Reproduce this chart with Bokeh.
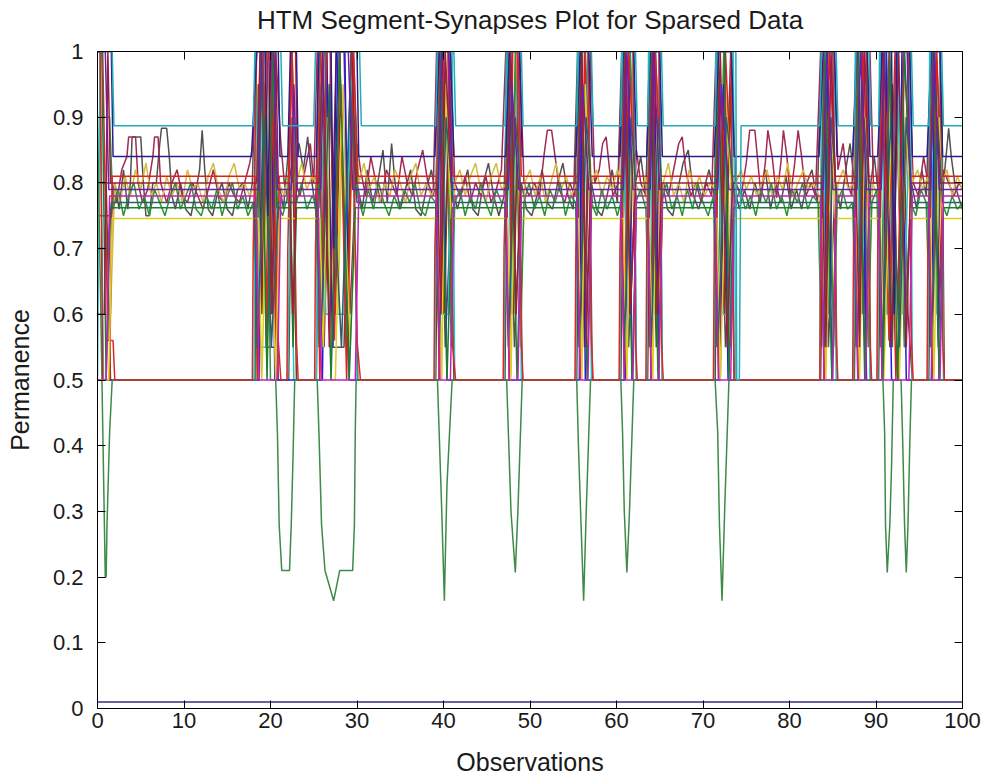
from bokeh.plotting import figure
from bokeh.models import FixedTicker, Range1d, CustomJSTickFormatter, LinearAxis
from bokeh.embed import file_html
from bokeh.resources import INLINE

TITLE = "HTM Segment-Synapses Plot for Sparsed Data"
X_LABEL = "Observations"
Y_LABEL = "Permanence"
x_ticks = [0, 10, 20, 30, 40, 50, 60, 70, 80, 90, 100]
y_ticks = [0, 0.1, 0.2, 0.3, 0.4, 0.5, 0.6, 0.7, 0.8, 0.9, 1.0]

# ---- series data: (observation, permanence) breakpoints ----
gray_zig = [(0,0.75),(1.6,0.75),(2.0,0.80),(2.5,0.76),(3.0,0.82),(3.5,0.76),(3.8,0.80),(4.0,0.87),(5.0,0.87),(5.3,0.80),(5.6,0.75),(6.0,0.75),(6.4,0.80),(6.8,0.80),(7.2,0.86),(7.4,0.883),(8.0,0.883),(8.3,0.84),(8.6,0.78),(9.0,0.76),(9.6,0.80),(10.2,0.76),(10.8,0.75),(11.4,0.79),(11.8,0.82),(12.1,0.88),(12.4,0.82),(12.8,0.76),(13.3,0.75),(13.8,0.78),(14.4,0.80),(15.0,0.76),(15.6,0.75),(16.2,0.79),(16.8,0.80),(17.4,0.76),(17.9,0.80),(18.3,1.0),(19.0,1.0),(19.5,0.55),(20.5,0.55),(21.0,0.80),(21.5,0.76),(22.0,0.84),(22.5,0.80),(23.3,0.86),(23.8,0.82),(24.3,0.87),(24.8,0.80),(25.2,0.76),(25.6,1.0),(26.5,1.0),(27.0,0.55),(28.5,0.55),(29.3,1.0),(30.0,0.80),(30.6,0.76),(31.2,0.82),(31.8,0.77),(32.4,0.80),(33.0,0.85),(33.5,0.77),(34.0,0.86),(34.4,0.80),(35.0,0.76),(35.6,0.79),(36.2,0.82),(36.8,0.76),(37.4,0.75),(38.0,0.79),(38.6,0.82),(39.1,0.78),(39.5,1.0),(40.2,0.55),(41.0,0.80),(41.6,0.76),(42.2,0.79),(42.8,0.82),(43.4,0.76),(44.0,0.75),(44.6,0.80),(45.2,0.83),(45.8,0.78),(46.4,0.75),(47.0,0.78),(47.4,1.0),(48.2,0.55),(49.0,0.80),(49.6,0.76),(50.2,0.75),(50.8,0.78),(51.4,0.82),(52.0,0.77),(52.6,0.76),(53.2,0.80),(53.8,0.83),(54.4,0.78),(55.0,0.76),(55.5,1.0),(56.3,0.55),(57.1,0.80),(57.7,0.76),(58.3,0.75),(58.9,0.78),(59.5,0.82),(60.1,0.77),(60.6,1.0),(61.4,0.55),(62.2,0.80),(62.8,0.84),(63.4,0.78),(63.8,1.0),(64.6,0.55),(65.3,0.80),(65.9,0.76),(66.5,0.75),(67.1,0.79),(67.7,0.83),(68.3,0.85),(68.9,0.78),(69.5,0.76),(70.1,0.79),(70.7,0.82),(71.3,0.78),(71.7,1.0),(72.6,0.55),(73.5,0.80),(74.2,0.76),(74.8,0.79),(75.4,0.76),(76.0,0.80),(76.6,0.77),(77.2,0.82),(77.8,0.76),(78.4,0.80),(79.0,0.77),(79.6,0.81),(80.2,0.76),(80.8,0.79),(81.4,0.76),(82.0,0.80),(82.6,0.82),(83.2,0.77),(83.7,1.0),(84.5,0.55),(85.3,0.80),(85.9,0.76),(86.5,0.82),(87.0,0.86),(87.5,0.80),(87.9,1.0),(88.7,0.55),(89.4,0.80),(89.8,0.84),(90.3,0.78),(90.7,1.0),(91.6,0.55),(92.4,1.0),(93.3,0.55),(94.1,0.80),(94.7,0.76),(95.3,0.82),(95.8,0.78),(96.4,1.0),(97.2,0.55),(97.8,0.80),(98.1,0.84),(98.4,0.883),(98.7,0.84),(99.1,0.80),(99.5,0.78),(100,0.76)]

maroon_zig = [(0,0.8),(1.7,0.8),(2.2,0.77),(2.8,0.82),(3.4,0.84),(3.6,0.87),(4.4,0.87),(4.7,0.80),(5.2,0.77),(5.8,0.79),(6.4,0.84),(6.6,0.87),(7.0,0.87),(7.3,0.80),(8.0,0.77),(8.6,0.80),(9.2,0.82),(9.8,0.78),(10.4,0.77),(11.0,0.80),(11.6,0.78),(12.2,0.76),(12.8,0.79),(13.4,0.82),(14.0,0.78),(14.6,0.77),(15.2,0.80),(15.8,0.78),(16.4,0.77),(17.0,0.80),(17.6,0.83),(18.0,0.86),(18.4,1.0),(19.6,1.0),(20.1,0.6),(20.6,1.0),(21.2,0.86),(21.6,0.80),(22.1,0.77),(22.4,1.0),(22.9,0.80),(23.4,0.78),(24.0,0.82),(24.6,0.86),(25.0,0.80),(25.4,1.0),(26.2,0.55),(27.0,1.0),(28.5,1.0),(29.2,0.6),(30.0,0.86),(30.4,0.82),(31.0,0.78),(31.6,0.84),(32.2,0.80),(32.8,0.77),(33.4,0.82),(34.0,0.80),(34.6,0.78),(35.2,0.84),(35.8,0.80),(36.4,0.78),(37.0,0.82),(37.6,0.85),(38.2,0.80),(38.8,0.78),(39.2,1.0),(40.0,0.6),(40.8,1.0),(41.3,0.80),(41.9,0.78),(42.5,0.81),(43.1,0.77),(43.7,0.80),(44.3,0.78),(44.9,0.81),(45.5,0.77),(46.1,0.79),(46.7,0.82),(47.2,1.0),(48.0,0.6),(48.8,1.0),(49.3,0.80),(49.9,0.78),(50.5,0.80),(51.1,0.78),(51.6,0.84),(52.0,0.88),(52.5,0.88),(52.9,0.84),(53.4,0.79),(54.0,0.77),(54.6,0.80),(55.2,0.78),(55.6,1.0),(56.4,0.6),(57.0,1.0),(57.5,0.80),(58.0,0.82),(58.4,0.86),(58.8,0.87),(59.2,0.82),(59.6,0.78),(60.2,0.80),(60.7,1.0),(61.6,0.6),(62.3,0.85),(62.8,0.80),(63.4,0.78),(63.9,1.0),(64.8,0.6),(65.4,0.80),(66.0,0.78),(66.6,0.82),(67.2,0.86),(67.6,0.87),(68.0,0.82),(68.6,0.78),(69.2,0.80),(69.8,0.77),(70.4,0.80),(71.0,0.78),(71.5,1.0),(72.3,0.6),(73.2,1.0),(73.8,0.80),(74.4,0.78),(75.0,0.83),(75.4,0.88),(76.0,0.88),(76.7,0.78),(77.2,0.83),(77.5,0.88),(78.0,0.84),(78.5,0.777),(79.0,0.83),(79.3,0.88),(79.7,0.84),(80.1,0.777),(80.6,0.83),(81.0,0.88),(81.4,0.84),(81.9,0.78),(82.5,0.80),(83.0,0.78),(83.6,1.0),(84.4,0.6),(85.2,1.0),(85.6,0.82),(86.2,0.86),(86.7,0.80),(87.2,0.78),(87.7,1.0),(88.6,0.6),(89.3,1.0),(89.7,0.80),(90.2,0.80),(90.6,1.0),(91.4,0.6),(92.2,1.0),(93.0,0.6),(93.8,1.0),(94.3,0.80),(94.9,0.78),(95.5,0.84),(96.0,0.80),(96.5,1.0),(97.2,0.6),(97.8,0.82),(98.4,0.80),(99.0,0.78),(99.6,0.80),(100,0.79)]

olive_zig = [(0,0.6),(1.5,0.6),(2.0,0.80),(2.6,0.77),(3.2,0.81),(3.8,0.78),(4.4,0.82),(5.0,0.79),(5.6,0.83),(6.2,0.78),(6.8,0.80),(7.4,0.77),(8.0,0.81),(8.6,0.78),(9.2,0.80),(9.8,0.77),(10.4,0.82),(11.0,0.79),(11.6,0.80),(12.2,0.77),(12.8,0.81),(13.4,0.83),(14.0,0.79),(14.6,0.77),(15.2,0.81),(15.8,0.83),(16.4,0.79),(17.0,0.80),(17.6,0.78),(18.2,0.80),(18.6,0.95),(19.2,0.6),(19.8,0.95),(20.4,0.6),(21.0,0.80),(21.6,0.78),(22.0,0.81),(22.5,0.6),(23.0,0.80),(23.6,0.83),(24.2,0.79),(24.8,0.81),(25.3,0.80),(25.8,0.6),(26.6,0.95),(27.2,0.6),(27.8,0.6),(28.4,0.95),(29.0,0.6),(29.6,0.95),(30.2,0.80),(30.8,0.83),(31.4,0.79),(32.0,0.81),(32.6,0.77),(33.2,0.80),(33.8,0.78),(34.4,0.82),(35.0,0.80),(35.6,0.77),(36.2,0.81),(36.8,0.83),(37.4,0.78),(38.0,0.80),(38.6,0.78),(39.2,0.80),(39.7,0.6),(40.3,0.95),(40.9,0.6),(41.3,0.80),(41.9,0.82),(42.5,0.78),(43.1,0.81),(43.7,0.83),(44.3,0.79),(44.9,0.77),(45.5,0.81),(46.1,0.83),(46.7,0.79),(47.3,0.80),(47.7,0.6),(48.3,0.95),(48.9,0.6),(49.4,0.80),(50.0,0.82),(50.6,0.78),(51.2,0.81),(51.8,0.77),(52.4,0.80),(53.0,0.83),(53.6,0.79),(54.2,0.81),(54.8,0.78),(55.4,0.80),(55.9,0.6),(56.5,0.95),(57.1,0.80),(57.7,0.82),(58.3,0.78),(58.9,0.81),(59.5,0.79),(60.1,0.82),(60.6,0.80),(61.0,0.6),(61.6,0.95),(62.2,0.80),(62.8,0.78),(63.4,0.81),(63.8,0.6),(64.4,0.95),(65.0,0.6),(65.4,0.80),(66.0,0.83),(66.6,0.78),(67.2,0.80),(67.8,0.77),(68.4,0.82),(69.0,0.79),(69.6,0.81),(70.2,0.78),(70.8,0.80),(71.4,0.79),(71.9,0.6),(72.6,0.95),(73.3,0.6),(73.8,0.80),(74.4,0.82),(75.0,0.79),(75.6,0.81),(76.2,0.78),(76.8,0.80),(77.4,0.82),(78.0,0.78),(78.6,0.81),(79.2,0.79),(79.8,0.83),(80.4,0.78),(81.0,0.80),(81.6,0.82),(82.2,0.79),(82.8,0.80),(83.4,0.78),(83.9,0.6),(84.5,0.95),(85.1,0.6),(85.6,0.80),(86.2,0.82),(86.8,0.79),(87.4,0.80),(87.9,0.6),(88.5,0.95),(89.1,0.6),(89.6,0.80),(90.2,0.78),(90.6,0.6),(91.2,0.95),(91.8,0.6),(92.4,0.95),(93.0,0.6),(93.6,0.95),(94.2,0.80),(94.8,0.82),(95.4,0.79),(96.0,0.81),(96.4,0.6),(97.0,0.95),(97.6,0.80),(98.2,0.82),(98.8,0.78),(99.4,0.81),(100,0.79)]

green_zig = [(0,0.9),(1.4,0.9),(1.8,0.76),(2.4,0.79),(3.0,0.75),(3.6,0.78),(4.2,0.80),(4.8,0.76),(5.4,0.78),(6.0,0.75),(6.6,0.79),(7.2,0.77),(7.8,0.75),(8.4,0.78),(9.0,0.80),(9.6,0.76),(10.2,0.78),(10.8,0.80),(11.4,0.76),(12.0,0.75),(12.6,0.78),(13.2,0.76),(13.8,0.79),(14.4,0.75),(15.0,0.78),(15.6,0.80),(16.2,0.76),(16.8,0.78),(17.4,0.75),(18.0,0.77),(18.4,0.55),(19.0,1.0),(19.6,0.55),(20.2,1.0),(20.8,0.77),(21.4,0.75),(22.0,0.78),(22.5,1.0),(23.0,0.77),(23.6,0.80),(24.2,0.76),(24.8,0.78),(25.2,0.77),(25.6,0.55),(26.4,1.0),(27.2,0.55),(28.0,1.0),(28.8,0.55),(29.6,1.0),(30.1,0.78),(30.7,0.75),(31.3,0.79),(31.9,0.76),(32.5,0.80),(33.1,0.77),(33.7,0.75),(34.3,0.78),(34.9,0.76),(35.5,0.79),(36.1,0.77),(36.7,0.80),(37.3,0.76),(37.9,0.75),(38.5,0.78),(39.1,0.77),(39.5,0.55),(40.2,1.0),(40.9,0.55),(41.3,0.77),(41.9,0.79),(42.5,0.75),(43.1,0.78),(43.7,0.76),(44.3,0.80),(44.9,0.77),(45.5,0.75),(46.1,0.79),(46.7,0.77),(47.2,0.77),(47.6,0.55),(48.3,1.0),(48.9,0.55),(49.3,0.77),(49.9,0.80),(50.5,0.76),(51.1,0.78),(51.7,0.75),(52.3,0.79),(52.9,0.77),(53.5,0.80),(54.1,0.75),(54.7,0.78),(55.3,0.77),(55.7,0.55),(56.4,1.0),(57.1,0.77),(57.7,0.75),(58.3,0.79),(58.9,0.76),(59.5,0.78),(60.1,0.75),(60.5,0.77),(60.9,0.55),(61.6,1.0),(62.2,0.77),(62.8,0.79),(63.4,0.76),(63.8,0.55),(64.5,1.0),(65.2,0.77),(65.8,0.80),(66.4,0.76),(67.0,0.78),(67.6,0.75),(68.2,0.79),(68.8,0.76),(69.4,0.80),(70.0,0.77),(70.6,0.75),(71.2,0.78),(71.6,0.55),(72.4,1.0),(73.2,0.55),(73.7,0.77),(74.3,0.79),(74.9,0.76),(75.5,0.78),(76.1,0.75),(76.7,0.79),(77.3,0.77),(77.9,0.80),(78.5,0.76),(79.1,0.78),(79.7,0.75),(80.3,0.79),(80.9,0.77),(81.5,0.80),(82.1,0.76),(82.7,0.78),(83.3,0.77),(83.7,0.55),(84.4,1.0),(85.1,0.55),(85.5,0.77),(86.1,0.79),(86.7,0.76),(87.3,0.77),(87.7,0.55),(88.4,1.0),(89.1,0.55),(89.5,0.77),(90.1,0.79),(90.5,0.55),(91.2,1.0),(91.9,0.55),(92.6,1.0),(93.3,0.55),(94.0,0.77),(94.6,0.75),(95.2,0.79),(95.8,0.77),(96.3,0.55),(97.0,1.0),(97.6,0.77),(98.2,0.75),(98.8,0.78),(99.4,0.76),(100,0.77)]

blue_burst = [(0,0.5),(18.7,0.5),(19.2,1.0),(20.1,1.0),(20.5,0.5),(26.0,0.5),(26.5,1.0),(27.2,0.55),(27.8,1.0),(28.6,1.0),(29.1,0.5),(39.5,0.5),(39.9,1.0),(40.4,0.5),(55.7,0.5),(56.0,1.0),(56.4,0.5),(61.0,0.5),(61.4,1.0),(61.8,0.5),(64.0,0.5),(64.4,1.0),(64.9,0.5),(72.0,0.5),(72.4,0.95),(72.9,0.5),(84.0,0.5),(84.4,1.0),(84.9,0.5),(88.0,0.5),(88.4,1.0),(88.9,0.5),(90.8,0.5),(91.2,1.0),(91.8,0.5),(92.6,0.5),(93.0,1.0),(93.5,0.5),(96.4,0.5),(96.8,1.0),(97.3,0.5),(100,0.5)]

cyan_burst = [(0,0.5),(0.3,1.0),(0.7,0.5),(18.1,0.5),(18.3,1.0),(18.8,0.55),(19.6,0.55),(20.4,1.0),(20.8,0.5),(22.0,0.5),(22.3,0.8),(22.7,0.5),(25.3,0.5),(25.6,1.0),(26.4,0.6),(28.5,0.6),(29.5,1.0),(30.0,0.5),(39.0,0.5),(39.3,1.0),(39.8,0.6),(40.6,0.6),(41.0,1.0),(41.3,0.5),(47.0,0.5),(47.3,1.0),(47.9,0.6),(48.6,1.0),(49.0,0.5),(55.3,0.5),(55.5,1.0),(56.0,0.6),(56.7,1.0),(57.1,0.5),(60.4,0.5),(60.6,1.0),(61.3,0.6),(62.0,1.0),(62.3,0.5),(63.5,0.5),(63.7,1.0),(64.3,0.6),(65.0,1.0),(65.3,0.5),(71.3,0.5),(71.5,1.0),(72.3,0.6),(73.1,0.6),(73.5,1.0),(73.8,0.5),(83.5,0.5),(83.7,1.0),(84.4,0.6),(85.1,1.0),(85.4,0.5),(87.4,0.5),(87.6,1.0),(88.3,0.6),(89.0,1.0),(89.3,0.5),(90.2,0.5),(90.4,1.0),(91.3,0.6),(92.4,1.0),(93.3,0.6),(94.0,1.0),(94.2,0.5),(96.0,0.5),(96.2,1.0),(96.9,0.6),(97.5,1.0),(97.8,0.5),(100,0.5)]

brown_burst = [(0,0.8),(1.0,0.8),(1.5,0.5),(18.2,0.5),(18.6,0.95),(19.0,0.6),(19.4,0.95),(19.9,0.6),(20.4,0.95),(20.9,0.5),(22.1,0.5),(22.5,0.9),(23.0,0.5),(25.3,0.5),(25.7,0.95),(26.3,0.6),(26.9,0.95),(27.5,0.6),(28.1,0.95),(28.8,0.6),(29.4,0.95),(30.1,0.5),(39.1,0.5),(39.5,0.95),(40.1,0.6),(40.7,0.95),(41.2,0.5),(47.1,0.5),(47.5,0.95),(48.1,0.6),(48.7,0.95),(49.1,0.5),(55.4,0.5),(55.8,0.95),(56.3,0.6),(56.8,0.95),(57.2,0.5),(60.5,0.5),(60.9,0.95),(61.5,0.6),(62.0,0.95),(62.3,0.5),(63.6,0.5),(64.0,0.95),(64.6,0.6),(65.0,0.95),(65.3,0.5),(71.4,0.5),(71.8,0.95),(72.5,0.6),(73.2,0.95),(73.6,0.5),(83.6,0.5),(84.0,0.95),(84.6,0.6),(85.1,0.95),(85.5,0.5),(87.5,0.5),(87.9,0.95),(88.5,0.6),(89.0,0.95),(89.4,0.5),(90.3,0.5),(90.7,0.95),(91.3,0.6),(91.9,0.95),(92.5,0.6),(93.1,0.95),(93.7,0.6),(94.2,0.5),(96.1,0.5),(96.5,0.95),(97.1,0.6),(97.6,0.95),(97.9,0.5),(100,0.5)]

cyan_flat = [(0,1.0),(1.7,1.0),(1.9,0.887),(18.0,0.887),(18.2,1.0),(21.2,1.0),(21.4,0.887),(25.0,0.887),(25.2,1.0),(30.3,1.0),(30.5,0.887),(39.1,0.887),(39.3,1.0),(41.2,1.0),(41.4,0.887),(47.1,0.887),(47.3,1.0),(49.0,1.0),(49.2,0.887),(55.4,0.887),(55.6,1.0),(57.1,1.0),(57.3,0.887),(60.5,0.887),(60.7,1.0),(62.2,1.0),(62.4,0.887),(63.6,0.887),(63.8,1.0),(65.2,1.0),(65.4,0.887),(71.4,0.887),(71.6,1.0),(73.8,1.0),(73.9,0.5),(74.2,0.5),(74.4,0.887),(83.5,0.887),(83.7,1.0),(85.4,1.0),(85.6,0.887),(87.5,0.887),(87.7,1.0),(89.2,1.0),(89.4,0.887),(90.3,0.887),(90.5,1.0),(94.1,1.0),(94.3,0.887),(96.1,0.887),(96.3,1.0),(97.6,1.0),(97.8,0.887),(100,0.887)]

navy_flat = [(0,1.0),(1.6,1.0),(1.8,0.84),(17.8,0.84),(18.4,1.0),(19.4,1.0),(19.7,0.75),(20.0,1.0),(20.9,1.0),(21.1,0.84),(22.0,0.84),(22.3,1.0),(23.0,1.0),(23.2,0.84),(25.3,0.84),(25.6,1.0),(27.0,1.0),(27.3,0.7),(27.6,1.0),(30.0,1.0),(30.2,0.84),(39.0,0.84),(39.5,1.0),(40.8,1.0),(41.2,0.84),(47.2,0.84),(47.6,1.0),(48.8,1.0),(49.1,0.84),(55.3,0.84),(55.8,1.0),(56.8,1.0),(57.2,0.84),(60.4,0.84),(60.8,1.0),(62.0,1.0),(62.3,0.84),(63.5,0.84),(63.9,1.0),(65.0,1.0),(65.3,0.84),(71.3,0.84),(71.8,1.0),(73.3,1.0),(73.6,0.84),(83.4,0.84),(83.9,1.0),(85.2,1.0),(85.5,0.84),(87.3,0.84),(87.8,1.0),(89.0,1.0),(89.3,0.84),(90.2,0.84),(90.7,1.0),(91.8,1.0),(92.1,0.6),(92.4,1.0),(93.9,1.0),(94.2,0.84),(95.9,0.84),(96.4,1.0),(97.4,1.0),(97.7,0.84),(100,0.84)]

red_flat = [(0,1.0),(0.3,1.0),(0.6,0.5),(1.4,0.5),(1.7,0.81),(18.2,0.81),(18.5,0.5),(19.5,1.0),(20.2,1.0),(20.7,0.5),(21.0,0.81),(22.1,0.81),(22.4,1.0),(22.9,1.0),(23.1,0.81),(25.4,0.81),(25.7,0.5),(26.5,1.0),(28.0,1.0),(28.8,0.5),(29.6,1.0),(30.1,0.81),(39.2,0.81),(39.5,0.5),(40.0,1.0),(40.6,1.0),(41.1,0.81),(47.3,0.81),(47.6,0.5),(48.0,1.0),(48.6,1.0),(49.0,0.81),(55.5,0.81),(55.8,0.5),(56.3,1.0),(56.9,0.81),(60.6,0.81),(60.9,0.5),(61.4,1.0),(62.1,0.81),(63.7,0.81),(64.0,0.5),(64.5,1.0),(65.1,0.81),(71.5,0.81),(71.8,0.5),(72.6,1.0),(73.2,0.81),(83.7,0.81),(84.0,0.5),(84.6,1.0),(85.3,0.81),(87.6,0.81),(87.9,0.5),(88.5,1.0),(89.1,0.81),(90.4,0.81),(90.7,0.5),(91.5,1.0),(92.3,0.5),(93.2,1.0),(94.0,0.81),(96.2,0.81),(96.5,0.5),(97.0,1.0),(97.6,0.81),(100,0.81)]

maroon_flat = [(0,0.6),(0.8,0.6),(1.2,1.0),(1.5,0.80),(18.4,0.80),(18.8,1.0),(19.8,1.0),(20.2,0.6),(20.6,1.0),(20.9,0.80),(22.2,0.80),(22.6,0.6),(23.0,0.80),(25.6,0.80),(26.0,1.0),(26.8,0.55),(27.6,1.0),(29.4,1.0),(29.9,0.80),(39.3,0.80),(39.7,0.6),(40.2,1.0),(40.9,0.80),(47.4,0.80),(47.8,1.0),(48.4,0.6),(48.9,0.80),(55.6,0.80),(56.0,1.0),(56.5,0.55),(57.0,0.80),(60.7,0.80),(61.0,1.0),(61.6,0.6),(62.2,0.80),(63.8,0.80),(64.2,1.0),(64.7,0.6),(65.2,0.80),(71.6,0.80),(72.0,1.0),(72.8,0.55),(73.4,0.80),(83.8,0.80),(84.2,0.55),(84.8,1.0),(85.3,0.80),(87.7,0.80),(88.1,0.55),(88.7,1.0),(89.2,0.80),(90.5,0.80),(90.9,1.0),(91.8,0.55),(92.6,1.0),(93.5,0.55),(94.0,0.80),(96.3,0.80),(96.7,1.0),(97.4,0.80),(100,0.80)]

purple_flat = [(0,1.0),(0.9,1.0),(1.3,0.79),(18.6,0.79),(19.0,1.0),(20.4,1.0),(20.8,0.79),(22.4,0.79),(22.7,0.95),(23.1,0.79),(25.8,0.79),(26.2,1.0),(29.0,1.0),(29.5,0.79),(39.4,0.79),(39.8,1.0),(40.6,1.0),(41.0,0.79),(47.5,0.79),(47.9,0.95),(48.7,0.79),(55.6,0.79),(56.1,0.95),(56.8,0.79),(60.8,0.79),(61.2,1.0),(61.9,0.79),(63.9,0.79),(64.3,1.0),(65.0,0.79),(71.7,0.79),(72.1,0.95),(73.0,0.79),(83.9,0.79),(84.3,1.0),(85.0,0.79),(87.8,0.79),(88.2,1.0),(88.9,0.79),(90.6,0.79),(91.0,1.0),(93.6,1.0),(94.0,0.79),(96.3,0.79),(96.7,1.0),(97.3,0.79),(100,0.79)]

magenta_flat = [(0,0.5),(1.0,0.5),(1.4,0.78),(18.3,0.78),(18.7,0.5),(20.8,0.5),(21.2,0.78),(25.5,0.78),(25.9,0.5),(29.8,0.5),(30.2,0.78),(39.2,0.78),(39.6,0.5),(40.8,0.5),(41.2,0.78),(47.2,0.78),(47.6,0.5),(48.6,0.5),(49.0,0.78),(55.4,0.78),(55.8,0.5),(56.7,0.5),(57.1,0.78),(60.5,0.78),(60.9,0.5),(61.9,0.5),(62.3,0.78),(63.6,0.78),(64.0,0.5),(64.9,0.5),(65.3,0.78),(71.4,0.78),(71.8,0.5),(73.2,0.5),(73.6,0.78),(83.6,0.78),(84.0,0.5),(85.0,0.5),(85.4,0.78),(87.5,0.78),(87.9,0.5),(88.8,0.5),(89.2,0.78),(90.3,0.78),(90.7,0.5),(93.8,0.5),(94.2,0.78),(96.1,0.78),(96.5,0.5),(97.4,0.5),(97.8,0.78),(100,0.78)]

slate_flat = [(0,0.7),(1.2,0.7),(1.6,0.77),(18.1,0.77),(18.5,0.55),(19.3,0.9),(20.1,0.55),(20.9,0.77),(25.3,0.77),(25.8,0.55),(26.8,0.95),(28.2,0.55),(29.2,0.95),(30.0,0.77),(39.1,0.77),(39.5,0.55),(40.3,0.9),(41.1,0.77),(47.1,0.77),(47.5,0.55),(48.3,0.9),(49.0,0.77),(55.3,0.77),(55.7,0.55),(56.5,0.9),(57.2,0.77),(60.5,0.77),(60.9,0.55),(61.7,0.9),(62.3,0.77),(63.6,0.77),(64.0,0.55),(64.8,0.9),(65.3,0.77),(71.3,0.77),(71.7,0.55),(72.7,0.9),(73.7,0.77),(83.6,0.77),(84.0,0.55),(84.8,0.9),(85.5,0.77),(87.4,0.77),(87.8,0.55),(88.6,0.9),(89.3,0.77),(90.3,0.77),(90.7,0.55),(91.7,0.9),(92.7,0.55),(93.5,0.9),(94.2,0.77),(96.0,0.77),(96.4,0.55),(97.1,0.9),(97.7,0.77),(100,0.77)]

green_flat = [(0,1.0),(0.5,1.0),(1.0,0.5),(1.5,0.762),(18.5,0.762),(18.9,1.0),(19.6,0.5),(20.3,1.0),(20.7,0.762),(22.3,0.762),(22.6,0.55),(23.0,0.762),(25.6,0.762),(26.0,1.0),(27.0,0.5),(28.0,1.0),(29.1,0.5),(29.8,0.762),(39.3,0.762),(39.7,1.0),(40.4,0.5),(41.0,0.762),(47.3,0.762),(47.7,1.0),(48.5,0.5),(49.0,0.762),(55.5,0.762),(55.9,1.0),(56.6,0.5),(57.1,0.762),(60.6,0.762),(61.0,1.0),(61.8,0.5),(62.3,0.762),(63.7,0.762),(64.1,1.0),(64.8,0.5),(65.3,0.762),(71.4,0.762),(71.8,1.0),(72.5,1.0),(73.0,0.5),(73.5,0.762),(83.7,0.762),(84.1,1.0),(84.9,0.5),(85.4,0.762),(87.6,0.762),(88.0,1.0),(88.7,0.5),(89.2,0.762),(90.4,0.762),(90.8,0.5),(91.6,1.0),(92.5,0.5),(93.3,1.0),(94.1,0.762),(96.2,0.762),(96.6,1.0),(97.3,0.5),(97.8,0.762),(100,0.762)]

yellow_flat = [(0,0.5),(1.3,0.5),(1.7,0.746),(18.6,0.746),(19.0,0.5),(19.8,0.9),(20.6,0.5),(21.0,0.746),(25.7,0.746),(26.1,0.55),(26.6,0.9),(27.0,0.5),(27.5,0.5),(28.2,0.9),(29.2,0.55),(29.8,0.746),(39.4,0.746),(39.8,0.5),(40.2,0.95),(40.9,0.746),(47.4,0.746),(47.8,0.5),(48.3,0.9),(48.9,0.746),(55.6,0.746),(56.0,0.5),(56.4,0.95),(57.0,0.746),(60.8,0.746),(61.2,0.5),(61.7,0.9),(62.2,0.746),(63.8,0.746),(64.2,0.5),(64.7,0.9),(65.2,0.746),(71.6,0.746),(72.0,0.5),(72.8,0.9),(73.4,0.746),(83.8,0.746),(84.2,0.5),(84.8,0.9),(85.3,0.746),(87.7,0.746),(88.1,0.5),(88.7,0.9),(89.2,0.746),(90.5,0.746),(90.9,0.5),(91.8,0.9),(92.7,0.5),(93.5,0.9),(94.0,0.746),(96.3,0.746),(96.7,0.5),(97.3,0.9),(97.7,0.746),(100,0.746)]

green_dip = [(0,0.9),(0.9,0.2),(1.0,0.2),(1.1,0.28),(1.4,0.42),(1.7,0.5),(18.3,0.5),(18.8,1.0),(19.4,1.0),(20.0,0.5),(20.6,0.5),(20.8,0.42),(21.0,0.28),(21.3,0.21),(22.2,0.21),(22.4,0.28),(22.6,0.38),(22.8,0.5),(25.4,0.5),(25.6,0.42),(25.9,0.28),(26.3,0.21),(27.3,0.164),(28.0,0.21),(29.5,0.21),(29.7,0.28),(29.8,0.42),(29.9,0.5),(39.3,0.5),(39.5,0.42),(39.8,0.3),(40.1,0.164),(40.4,0.34),(40.7,0.42),(41.0,0.5),(47.3,0.5),(47.5,0.42),(47.8,0.3),(48.3,0.207),(48.6,0.3),(48.9,0.42),(49.1,0.5),(55.4,0.5),(55.6,0.4),(55.9,0.28),(56.2,0.164),(56.5,0.3),(56.8,0.42),(57.0,0.5),(60.5,0.5),(60.7,0.42),(60.9,0.3),(61.2,0.207),(61.5,0.3),(61.8,0.42),(62.0,0.5),(71.4,0.5),(71.7,0.42),(71.9,0.28),(72.2,0.164),(72.5,0.3),(72.8,0.42),(73.0,0.5),(90.8,0.5),(91.0,0.42),(91.1,0.28),(91.3,0.207),(91.6,0.28),(91.8,0.37),(92.0,0.5),(92.9,0.5),(93.1,0.4),(93.3,0.28),(93.5,0.207),(93.7,0.28),(93.9,0.4),(94.1,0.5),(100,0.5)]

red_base = [(0,1.0),(0.6,1.0),(1.2,0.56),(1.8,0.56),(2.0,0.5),(17.9,0.5),(18.0,0.7),(18.4,1.0),(19.2,1.0),(19.6,0.56),(20.0,1.0),(20.9,0.56),(21.2,0.5),(21.9,0.5),(22.0,0.7),(22.5,1.0),(23.0,0.56),(23.2,0.5),(25.1,0.5),(25.2,0.7),(25.8,1.0),(26.9,1.0),(27.4,0.56),(28.0,1.0),(29.4,1.0),(30.0,0.56),(30.4,0.5),(38.9,0.5),(39.0,0.7),(39.6,1.0),(40.5,1.0),(41.0,0.56),(41.4,0.5),(46.9,0.5),(47.0,0.7),(47.6,1.0),(48.5,1.0),(49.0,0.56),(49.2,0.5),(55.2,0.5),(55.3,0.7),(55.8,1.0),(56.7,1.0),(57.1,0.56),(57.3,0.5),(60.3,0.5),(60.4,0.7),(60.9,1.0),(61.9,1.0),(62.2,0.56),(62.4,0.5),(63.4,0.5),(63.5,0.7),(64.0,1.0),(64.9,1.0),(65.2,0.56),(65.4,0.5),(71.2,0.5),(71.3,0.7),(71.8,1.0),(73.2,1.0),(73.6,0.5),(83.5,0.5),(83.6,0.7),(84.0,1.0),(85.0,1.0),(85.4,0.56),(85.6,0.5),(87.3,0.5),(87.4,0.7),(87.9,1.0),(88.9,1.0),(89.3,0.56),(89.5,0.5),(90.1,0.5),(90.2,0.7),(90.7,1.0),(91.5,0.56),(92.3,1.0),(93.7,1.0),(94.1,0.56),(94.3,0.5),(95.9,0.5),(96.0,0.7),(96.5,1.0),(97.4,1.0),(97.7,0.56),(97.9,0.5),(100,0.5)]

navy_floor = [(0,0.01),(100,0.01)]

series = [
    (gray_zig, "#555050"),
    (maroon_zig, "#a22a55"),
    (olive_zig, "#d2bd3e"),
    (green_zig, "#33913d"),
    (brown_burst, "#7a3a1c"),
    (cyan_burst, "#26c3c8"),
    (blue_burst, "#1c1cd8"),
    (green_dip, "#3d8b48"),
    (red_base, "#d52a2a"),
    (red_flat, "#de2020"),
    (yellow_flat, "#dccf1e"),
    (green_flat, "#1e7a34"),
    (slate_flat, "#2e5e6a"),
    (magenta_flat, "#c41fbd"),
    (maroon_flat, "#9c1e3e"),
    (purple_flat, "#6a20a8"),
    (navy_flat, "#2a1f8c"),
    (cyan_flat, "#22acb8"),
    (navy_floor, "#30307e"),
]

FONT = "Liberation Sans"

p = figure(width=994, height=778, x_range=Range1d(0, 100), y_range=Range1d(0, 1),
           output_backend="svg", toolbar_location=None, title=TITLE,
           min_border_left=97, min_border_right=32, min_border_top=51, min_border_bottom=70)
p.background_fill_color = "white"
p.border_fill_color = "white"
p.outline_line_color = "black"
p.outline_line_width = 1
p.xgrid.visible = False
p.ygrid.visible = False

p.title.text_font = FONT
p.title.text_font_size = "26px"
p.title.text_font_style = "normal"
p.title.text_color = "#1a1a1a"
p.title.align = "center"
p.title.vertical_align = "top"
p.title.standoff = 8

yfmt = CustomJSTickFormatter(code="return tick.toFixed(1).replace(/\\.0$/, '');")
blank = CustomJSTickFormatter(code="return '';")

def base_style(ax):
    ax.axis_line_color = "black"
    ax.axis_line_width = 1
    ax.major_tick_in = 8
    ax.major_tick_out = 0
    ax.minor_tick_line_color = None
    ax.major_tick_line_color = "black"
    ax.major_tick_line_width = 1
    ax.major_label_text_font = FONT
    ax.major_label_text_font_size = "22px"
    ax.major_label_text_color = "#1a1a1a"
    ax.axis_label_text_font = FONT
    ax.axis_label_text_font_size = "25px"
    ax.axis_label_text_font_style = "normal"
    ax.axis_label_text_color = "#1a1a1a"

xb = p.xaxis[0]
yl = p.yaxis[0]
base_style(xb)
base_style(yl)
xb.ticker = FixedTicker(ticks=x_ticks)
yl.ticker = FixedTicker(ticks=y_ticks)
yl.formatter = yfmt
xb.axis_label = X_LABEL
yl.axis_label = Y_LABEL
xb.major_label_standoff = 4
xb.axis_label_standoff = 17
yl.major_label_standoff = 14
yl.axis_label_standoff = 16

# mirrored inner ticks on the top and right edges (MATLAB box style), no labels
xt = LinearAxis(ticker=FixedTicker(ticks=x_ticks), formatter=blank)
yr = LinearAxis(ticker=FixedTicker(ticks=y_ticks), formatter=blank)
base_style(xt)
base_style(yr)
xt.major_label_standoff = 0
yr.major_label_standoff = 0
p.add_layout(xt, "above")
p.add_layout(yr, "right")

# invisible spacer above the box so the title sits higher, as in the original figure
spacer = LinearAxis(ticker=FixedTicker(ticks=x_ticks), formatter=blank)
spacer.axis_line_alpha = 0
spacer.major_tick_line_alpha = 0
spacer.minor_tick_line_color = None
spacer.major_tick_in = 0
spacer.major_tick_out = 11
spacer.major_label_standoff = 0
p.add_layout(spacer, "above")

for data, color in series:
    xs = [pt[0] for pt in data]
    ys = [pt[1] for pt in data]
    p.line(xs, ys, line_color=color, line_width=1.5)

open("out.html", "w").write(file_html(p, INLINE))
